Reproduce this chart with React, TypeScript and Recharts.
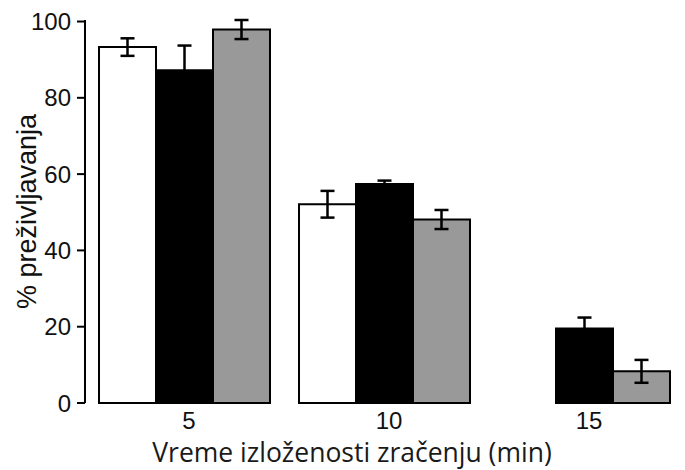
import { BarChart, Bar, XAxis, YAxis, ErrorBar } from 'recharts'

const categories = ['5', '10', '15']
const whiteVals = [93.3, 52.1, null]
const whiteErr = [2.3, 3.5, 0]
const blackVals = [87.2, 57.4, 19.5]
const blackErr = [6.5, 0.9, 2.9]
const grayVals = [97.9, 48.1, 8.3]
const grayErr = [2.5, 2.5, 3.0]
const yTicks = [0, 20, 40, 60, 80, 100]
const edgeTicks = [0, 1, 2, 3]

const data = categories.map((c, i) => ({
  time: c,
  white: whiteVals[i],
  whiteErr: whiteErr[i],
  black: blackVals[i],
  blackErr: blackErr[i],
  gray: grayVals[i],
  grayErr: grayErr[i],
}))

const TICK_FONT = { fontFamily: 'Liberation Sans, Arial, sans-serif', fontSize: 24, fill: '#111' }

export default function App() {
  return (
    <div style={{ position: 'absolute', left: 0, top: 0, background: '#fff' }}>
      <BarChart
        width={685}
        height={470}
        data={data}
        margin={{ top: 20, right: 0, left: 0, bottom: 0 }}
        barCategoryGap={14}
        barGap={0}
      >
        <XAxis
          xAxisId="edges"
          type="number"
          domain={[0, 3]}
          ticks={edgeTicks}
          allowDataOverflow
          tick={false}
          height={0}
          axisLine={{ stroke: '#000', strokeWidth: 2 }}
          tickLine={{ stroke: '#000', strokeWidth: 2 }}
          tickSize={7}
        />
        <XAxis
          dataKey="time"
          axisLine={false}
          tickLine={false}
          tick={{ ...TICK_FONT, dx: 4 }}
          tickMargin={3}
          height={67}
          label={{
            value: 'Vreme izloženosti zračenju (min)',
            position: 'insideBottom',
            offset: 8,
            dx: -33,
            style: { fontFamily: 'Open Sans, sans-serif', fontSize: 26.5, fill: '#1a1a1a' },
          }}
        />
        <YAxis
          domain={[0, 100]}
          ticks={yTicks}
          width={85}
          tick={TICK_FONT}
          tickSize={8}
          tickMargin={6}
          axisLine={{ stroke: '#000', strokeWidth: 2 }}
          tickLine={{ stroke: '#000', strokeWidth: 2 }}
          label={{
            value: '% preživljavanja',
            angle: -90,
            position: 'center',
            dx: -16,
            style: { fontFamily: 'Liberation Sans, Arial, sans-serif', fontSize: 27, fill: '#111', textAnchor: 'middle' },
          }}
        />
        <Bar dataKey="white" fill="#ffffff" stroke="#000" strokeWidth={2} isAnimationActive={false}>
          <ErrorBar dataKey="whiteErr" width={7} stroke="#000" strokeWidth={2.5} />
        </Bar>
        <Bar dataKey="black" fill="#000000" stroke="#000" strokeWidth={2} isAnimationActive={false}>
          <ErrorBar dataKey="blackErr" width={7} stroke="#000" strokeWidth={2.5} />
        </Bar>
        <Bar dataKey="gray" fill="#999999" stroke="#000" strokeWidth={2} isAnimationActive={false}>
          <ErrorBar dataKey="grayErr" width={7} stroke="#000" strokeWidth={2.5} />
        </Bar>
      </BarChart>
    </div>
  )
}
